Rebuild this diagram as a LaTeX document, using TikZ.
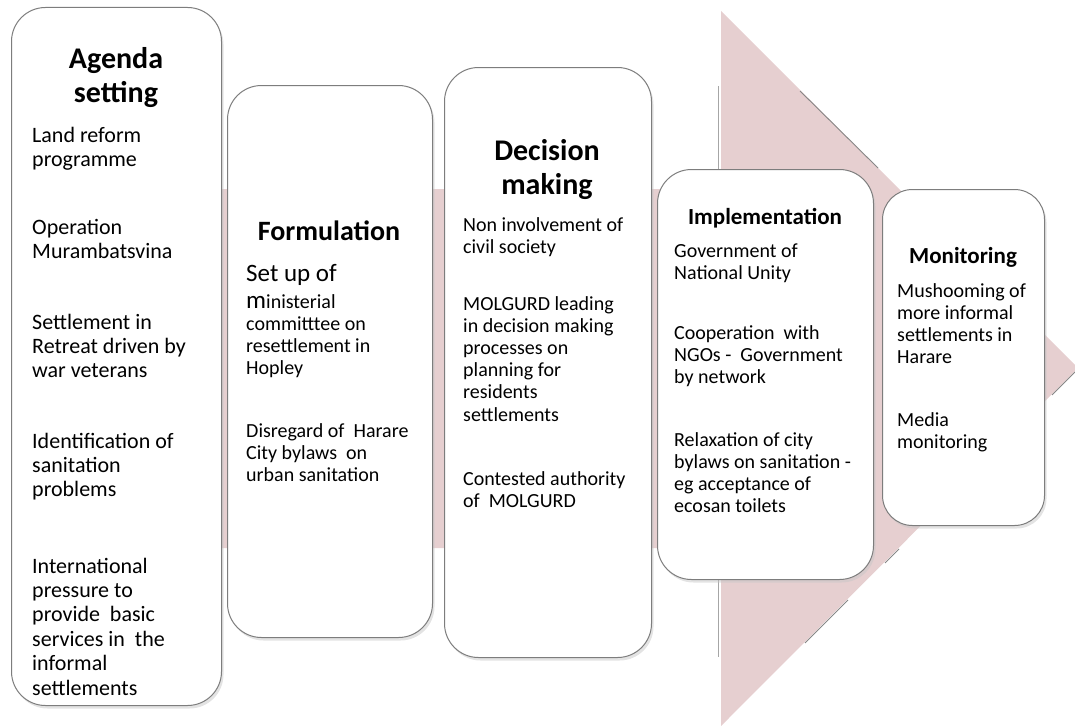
\documentclass[tikz,border=0pt]{standalone}
\usepackage{fontspec}
\setmainfont{Carlito}
\usetikzlibrary{shadows}
\definecolor{arrowpink}{RGB}{230,207,208}
\definecolor{boxline}{RGB}{125,125,125}
\definecolor{edgeshade}{RGB}{135,135,135}
\newcommand\llines[1]{\begin{tabular}[t]{@{}l@{}}#1\end{tabular}}
\newcommand\clines[1]{\begin{tabular}[t]{@{}c@{}}#1\end{tabular}}
\begin{document}
\begin{tikzpicture}[x=1pt,y=-1pt,
  stagebox/.style={draw=boxline, line width=1pt, fill=white, inner sep=0pt,
    anchor=north west, rounded corners=34pt,
    drop shadow={shadow xshift=2pt, shadow yshift=-3pt, fill=black!22}},
  shadeline/.style={draw=edgeshade, line width=0.9pt},
  vline/.style={draw=black!35, line width=0.8pt},
  bodytxt/.style={inner sep=0pt, anchor=base west, font=\fontsize{20}{22.2}\selectfont},
  bigbody/.style={inner sep=0pt, anchor=base west, font=\fontsize{22}{24.4}\selectfont},
  bigtitle/.style={inner sep=0pt, anchor=base, font=\bfseries\fontsize{30}{34}\selectfont},
  midtitle/.style={inner sep=0pt, anchor=base, font=\bfseries\fontsize{28}{30}\selectfont},
  smalltitle/.style={inner sep=0pt, anchor=base, font=\bfseries\fontsize{23}{24}\selectfont}]
\useasboundingbox (0,0) rectangle (1075,725);
\clip (0,0) rectangle (1075,725);
% background arrow
\fill[arrowpink] (100,189) -- (721,189) -- (721,11) -- (1078,368) -- (721,726)
  -- (721,548) -- (100,548) -- cycle;
% shading artefacts along the arrow head
\coordinate (u1) at (800,91);
\coordinate (u2) at (878,168);
\coordinate (l1) at (805,643);
\coordinate (l2) at (848,600);
\coordinate (l3) at (885,563);
\coordinate (l4) at (899,549);
\coordinate (l5) at (1052,395);
\coordinate (l6) at (1075,372);
\draw[shadeline] (u1) -- (u2);
\draw[shadeline] (l1) -- (l2);
\draw[shadeline] (l3) -- (l4);
\draw[shadeline] (l5) -- (l6);
\coordinate (v1) at (718,86);
\coordinate (v2) at (718,170);
\coordinate (v3) at (718,578);
\coordinate (v4) at (718,657);
\draw[vline] (v1) -- (v2);
\draw[vline] (v3) -- (v4);
% boxes
\node[stagebox, minimum width=210pt, minimum height=698pt] (b1) at (11,7) {};
\node[stagebox, minimum width=205pt, minimum height=552pt] (b2) at (227,85) {};
\node[stagebox, minimum width=207pt, minimum height=590pt] (b3) at (444,67) {};
\node[stagebox, minimum width=216pt, minimum height=410pt] (b4) at (657,169) {};
\node[stagebox, minimum width=162pt, minimum height=336pt, rounded corners=30pt] (b5) at (882,189) {};
% box 1
\node[bigtitle] (t1) at (116,68) {\clines{Agenda\\setting}};
\node[bigbody] (p11) at (32,142) {\llines{Land reform\\programme}};
\node[bigbody] (p12) at (32,234) {\llines{Operation\\Murambatsvina}};
\node[bigbody] (p13) at (32,329) {\llines{Settlement in\\Retreat driven by\\war veterans}};
\node[bigbody] (p14) at (32,448) {\llines{Identification of\\sanitation\\problems}};
\node[bigbody] (p15) at (32,573) {\llines{International\\pressure to\\provide\ \ basic\\services in\ \ the\\informal\\settlements}};
% box 2
\node[midtitle] (t2) at (329,240) {Formulation};
\node[inner sep=0pt, anchor=base west, font=\fontsize{25}{25}\selectfont] (p21) at (246,281) {Set up of};
\node[bodytxt] (p22) at (246,308) {\llines{{\fontsize{25}{22.2}\selectfont m}inisterial\\committtee on\\resettlement in\\Hopley}};
\node[bodytxt] (p23) at (246,437) {\llines{Disregard of\ \ Harare\\City bylaws\ \ on\\urban sanitation}};
% box 3
\node[bigtitle] (t3) at (547,160) {\clines{Decision\\making}};
\node[bodytxt] (p31) at (463,231) {\llines{Non involvement of\\civil society}};
\node[bodytxt] (p32) at (463,310) {\llines{MOLGURD leading\\in decision making\\processes on\\planning for\\residents\\settlements}};
\node[bodytxt] (p33) at (463,485) {\llines{Contested authority\\of\ \ MOLGURD}};
% box 4
\node[smalltitle] (t4) at (765,224) {Implementation};
\node[bodytxt] (p41) at (674,257) {\llines{Government of\\National Unity}};
\node[bodytxt] (p42) at (674,339) {\llines{Cooperation\ \ with\\NGOs -\ \ Government\\by network}};
\node[bodytxt] (p43) at (674,446) {\llines{Relaxation of city\\bylaws on sanitation -\\eg acceptance of\\ecosan toilets}};
% box 5
\node[smalltitle] (t5) at (963,263) {Monitoring};
\node[bodytxt] (p51) at (897,297) {\llines{Mushooming of\\more informal\\settlements in\\Harare}};
\node[bodytxt] (p52) at (897,426) {\llines{Media\\monitoring}};
\end{tikzpicture}
\end{document}
